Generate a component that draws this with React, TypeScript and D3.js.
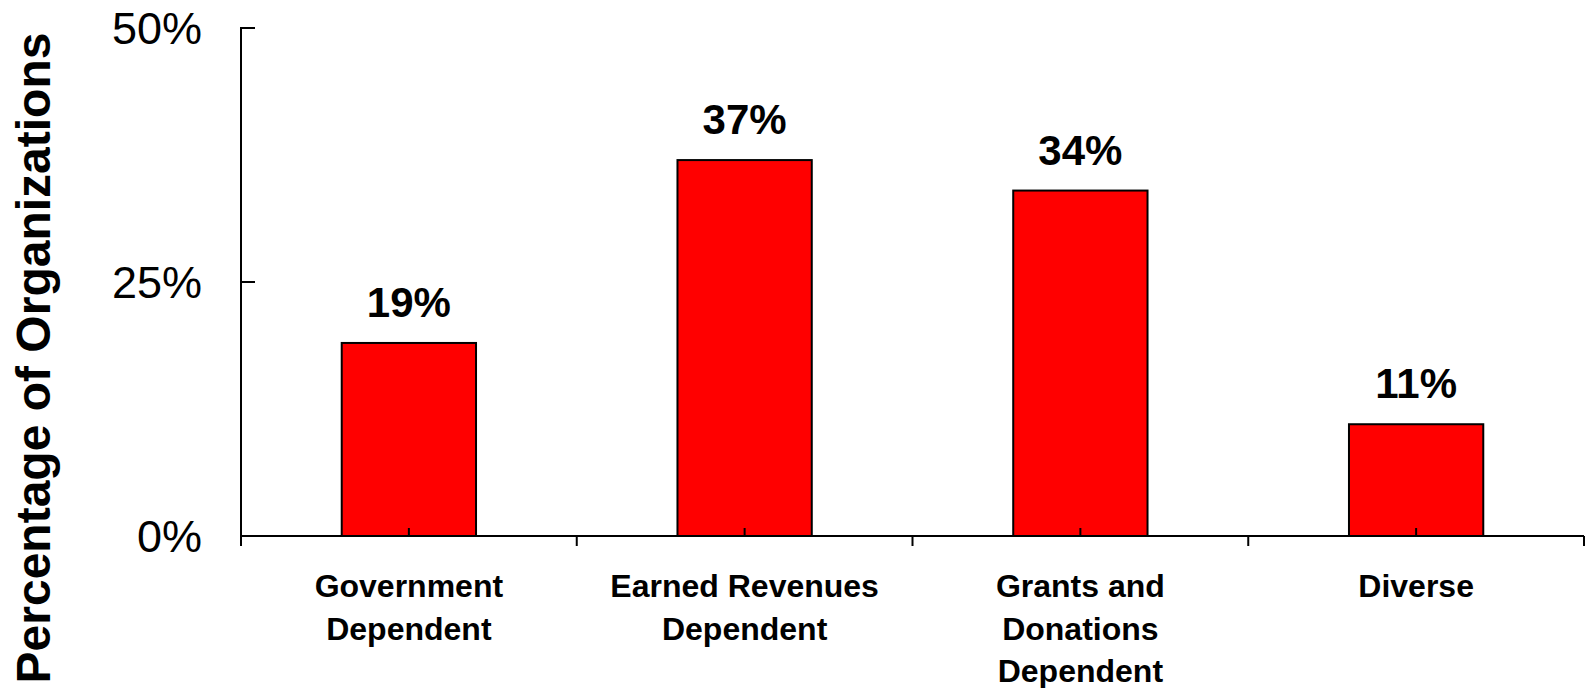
import React from "react";
import * as d3 from "d3";

const categories: string[][] = [
  ["Government", "Dependent"],
  ["Earned Revenues", "Dependent"],
  ["Grants and", "Donations", "Dependent"],
  ["Diverse"],
];
const values: number[] = [19, 37, 34, 11];
const yTicks: number[] = [0, 25, 50];
const yTitle = "Percentage of Organizations";

const W = 1590;
const H = 688;
const FONT = "'Liberation Sans', Arial, Helvetica, sans-serif";

export default function App() {
  const x0 = 241;
  const x1 = 1584;
  const y0 = 536;
  const yTop = 28;

  const x = d3
    .scaleBand<number>()
    .domain(values.map((_, i) => i))
    .range([x0, x1])
    .paddingInner(0)
    .paddingOuter(0);
  const y = d3.scaleLinear().domain([0, 50]).range([y0, yTop]);

  const bw = x.bandwidth();
  const barW = bw * 0.4;
  const boundaries = d3.range(values.length + 1).map((i) => x0 + i * bw);

  return (
    <svg
      width={W}
      height={H}
      style={{ position: "absolute", left: 0, top: 0, background: "#fff" }}
      fontFamily={FONT}
    >
      {/* Y title */}
      <text
        transform={`translate(50,358) rotate(-90)`}
        textAnchor="middle"
        fontSize={48}
        fontWeight="bold"
        fill="#000"
      >
        {yTitle}
      </text>

      {/* Bars */}
      {values.map((v, i) => {
        const cx = (x(i) as number) + bw / 2;
        return (
          <g key={i}>
            <rect
              x={cx - barW / 2}
              y={y(v)}
              width={barW}
              height={y0 - y(v)}
              fill="#ff0000"
              stroke="#000"
              strokeWidth={2}
            />
            <text
              x={cx}
              y={y(v) - 26}
              textAnchor="middle"
              fontSize={42}
              fontWeight="bold"
              fill="#000"
            >
              {`${v}%`}
            </text>
            <line x1={cx} x2={cx} y1={y0} y2={y0 - 8} stroke="#000" strokeWidth={2} />
            {categories[i].map((line, j) => (
              <text
                key={j}
                x={cx}
                y={597 + j * 42.5}
                textAnchor="middle"
                fontSize={32}
                fontWeight="bold"
                fill="#000"
              >
                {line}
              </text>
            ))}
          </g>
        );
      })}

      {/* Y axis */}
      <line x1={x0} x2={x0} y1={y(50) - 1} y2={y0} stroke="#000" strokeWidth={2} />
      {yTicks.map((t) => (
        <g key={t}>
          <line x1={x0} x2={x0 + 14} y1={y(t)} y2={y(t)} stroke="#000" strokeWidth={2} />
          <text
            x={202}
            y={y(t)}
            dy="0.36em"
            textAnchor="end"
            fontSize={45}
            fill="#000"
          >
            {`${t}%`}
          </text>
        </g>
      ))}

      {/* X axis */}
      <line x1={x0} x2={x1} y1={y0} y2={y0} stroke="#000" strokeWidth={2} />
      {boundaries.map((bx, i) => (
        <line key={i} x1={bx} x2={bx} y1={y0} y2={y0 + 10} stroke="#000" strokeWidth={2} />
      ))}
    </svg>
  );
}
